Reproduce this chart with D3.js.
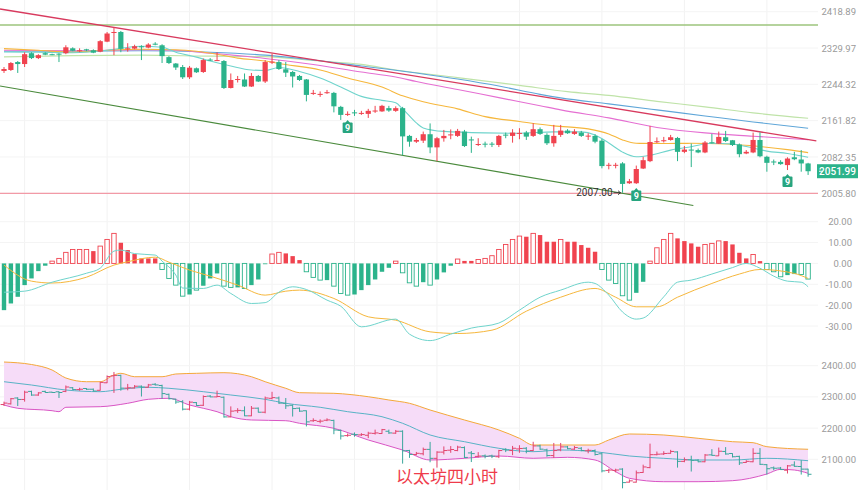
<!DOCTYPE html>
<html lang="zh">
<head>
<meta charset="UTF-8">
<title>以太坊四小时</title>
<script src="https://cdn.jsdelivr.net/npm/d3@7"></script>
<style>
  body { margin: 0; background: #fff; }
  svg { display: block; font-family: Roboto, Arial, sans-serif; }
</style>
</head>
<body>
<svg id="chart" width="860" height="490"></svg>
<script>
// ---- candle data (4h ETH) ----
const opens = [2275.5,2277.8,2296.5,2291.8,2317.6,2305.9,2317.6,2315.2,2316.4,2317.6,
  2329.3,2323.4,2326.9,2324.6,2321.1,2345.3,2367.5,2368.8,2328.1,2328.6,
  2334.2,2331.0,2340.4,2336.6,2308.2,2293.0,2284.8,2260.7,2281.8,2273.1,
  2302.4,2300.0,2298.9,2235.9,2255.6,2255.6,2239.3,2263.8,2250.9,2295.4,
  2296.5,2279.4,2273.1,2263.8,2255.6,2223.4,2221.6,2225.2,2224.6,2192.8,
  2175.9,2180.4,2178.1,2177.0,2183.1,2182.6,2189.9,2183.8,2189.9,2128.1,
  2115.5,2117.7,2131.8,2103.1,2123.0,2129.2,2128.1,2137.6,2120.4,2109.3,
  2111.1,2111.1,2108.2,2130.9,2128.1,2133.2,2135.4,2128.1,2142.9,2130.3,
  2112.0,2130.3,2139.8,2132.5,2135.4,2127.4,2128.1,2117.7,2064.4,2064.4,
  2068.6,2026.7,2026.7,2057.7,2073.4,2114.8,2117.0,2119.2,2123.6,2093.4,
  2098.3,2097.2,2092.1,2114.2,2111.1,2125.2,2118.6,2109.3,2089.9,2092.1,
  2119.2,2082.8,2072.7,2071.9,2065.0,2081.7,2076.9,2068.5];
const highs = [2284.8,2296.5,2298.9,2319.9,2319.9,2315.2,2319.9,2316.4,2317.6,2336.6,
  2331.7,2329.3,2328.1,2326.9,2349.0,2368.8,2379.9,2371.2,2341.6,2337.9,
  2336.6,2341.6,2344.1,2339.1,2310.6,2294.2,2289.5,2287.2,2283.6,2304.7,
  2305.9,2319.9,2301.2,2269.6,2263.8,2269.6,2270.8,2266.1,2301.2,2316.4,
  2301.2,2296.5,2275.5,2266.1,2256.7,2231.4,2228.0,2231.4,2226.9,2195.1,
  2182.6,2186.0,2183.8,2188.3,2195.1,2197.4,2195.1,2194.0,2192.8,2130.3,
  2123.6,2137.6,2155.7,2125.9,2141.3,2142.4,2143.5,2141.3,2126.5,2123.0,
  2115.5,2114.8,2130.3,2135.4,2142.9,2145.1,2139.1,2156.1,2146.8,2134.0,
  2152.4,2152.4,2142.9,2142.9,2139.1,2134.0,2131.8,2121.5,2069.8,2069.8,
  2071.3,2035.7,2064.0,2082.8,2150.2,2124.8,2125.9,2130.3,2125.9,2106.0,
  2111.5,2100.5,2117.0,2132.5,2137.6,2139.1,2119.2,2111.5,2097.2,2135.4,
  2135.8,2085.0,2076.9,2075.5,2081.7,2093.4,2097.2,2069.8];
const lows = [2270.8,2275.5,2270.8,2284.8,2303.6,2303.6,2312.9,2312.9,2296.5,2315.2,
  2322.3,2319.9,2322.3,2317.6,2319.9,2344.1,2312.9,2319.9,2321.1,2326.9,
  2301.2,2329.3,2336.6,2294.2,2291.8,2277.8,2256.7,2256.7,2270.8,2270.8,
  2298.9,2298.9,2233.6,2234.8,2248.6,2238.2,2238.2,2249.7,2247.4,2291.8,
  2277.8,2261.4,2237.0,2252.1,2205.3,2220.0,2215.5,2222.3,2180.4,2163.4,
  2172.4,2172.4,2174.7,2167.9,2179.2,2181.5,2181.5,2181.5,2086.1,2104.5,
  2112.6,2112.6,2090.5,2073.4,2115.5,2120.8,2125.9,2103.8,2091.2,2106.0,
  2103.1,2103.8,2103.8,2123.0,2113.3,2120.8,2119.2,2125.9,2130.3,2108.2,
  2104.5,2125.9,2132.5,2130.3,2125.9,2119.2,2112.0,2058.1,2056.0,2058.1,
  2007.0,2025.3,2025.3,2056.6,2071.3,2112.6,2113.7,2117.7,2073.4,2090.5,
  2060.8,2090.5,2090.5,2111.5,2110.4,2114.8,2106.0,2081.7,2088.4,2090.5,
  2081.7,2051.0,2065.0,2065.6,2054.5,2075.5,2051.0,2044.1];
const closes = [2280.1,2294.2,2291.8,2315.2,2305.9,2312.9,2314.1,2314.1,2314.1,2331.7,
  2323.4,2324.6,2324.6,2318.8,2346.5,2365.1,2368.8,2328.1,2329.3,2334.2,
  2331.7,2338.4,2338.4,2310.6,2294.2,2283.6,2260.7,2283.2,2272.4,2301.2,
  2300.0,2301.2,2235.9,2254.4,2256.7,2239.3,2263.8,2250.9,2296.5,2297.7,
  2280.1,2271.5,2262.6,2254.4,2220.0,2224.6,2222.3,2226.2,2194.0,2174.7,
  2177.0,2179.2,2179.2,2183.8,2184.5,2195.1,2184.5,2189.9,2127.0,2115.5,
  2119.2,2131.8,2103.1,2123.0,2128.1,2131.4,2139.1,2106.0,2118.2,2110.4,
  2109.8,2109.8,2128.1,2129.6,2135.4,2134.7,2126.5,2142.9,2132.5,2112.0,
  2128.1,2139.8,2134.0,2137.6,2128.1,2128.7,2115.5,2062.9,2065.6,2065.6,
  2025.3,2030.9,2056.7,2075.5,2114.8,2116.4,2118.6,2125.2,2093.4,2098.3,
  2096.5,2092.1,2113.7,2112.6,2125.9,2117.0,2108.2,2088.4,2093.4,2119.2,
  2083.9,2069.8,2071.3,2067.1,2079.0,2077.5,2068.5,2051.99];

// moving averages: [candle index, price]
const maCyan = [[0,2320.6],[5,2319.9],[10,2318.8],[15,2324.6],[17,2329.3],[20,2334.2],[23,2331.7],[25,2319.9],
  [28,2308.2],[30,2298.9],[33,2287.2],[36,2277.8],[38,2276.6],[40,2283.6],[43,2274.3],[46,2259.1],[49,2238.2],
  [52,2216.6],[55,2207.6],[57,2201.9],[58,2188.3],[60,2156.8],[61,2145.7],[64,2138.0],[70,2134.7],[75,2134.0],
  [80,2136.9],[84,2136.9],[86,2130.3],[88,2112.6],[90,2092.8],[92,2082.8],[94,2086.1],[97,2097.2],[100,2104.5],
  [103,2111.9],[106,2110.4],[108,2104.9],[111,2095.0],[114,2089.9],[117,2081.7]];
const maOrange = [[0,2328.6],[5,2324.6],[10,2319.9],[15,2324.6],[20,2326.9],[25,2325.8],[28,2322.3],[31,2315.2],
  [34,2305.9],[38,2298.9],[40,2293.0],[46,2277.8],[50,2259.0],[55,2238.0],[58,2218.0],[61,2204.2],[66,2188.3],
  [70,2170.9],[75,2160.1],[80,2150.2],[85,2143.5],[88,2132.5],[90,2119.2],[92,2111.9],[96,2111.5],[100,2111.9],
  [105,2110.4],[110,2104.9],[114,2098.3],[117,2091.7]];
const maPink = [[0,2324.6],[10,2323.4],[20,2325.8],[25,2324.6],[30,2317.6],[38,2305.0],[45,2290.7],[52,2273.1],
  [57,2261.4],[60,2250.9],[66,2232.5],[72,2213.7],[78,2195.5],[81,2186.0],[88,2168.0],[95,2146.8],[102,2134.7],
  [109,2127.4],[117,2119.7]];
const maBlue = [[0,2322.3],[10,2322.3],[20,2323.4],[30,2319.9],[38,2312.9],[45,2301.2],[52,2287.2],[60,2270.8],
  [66,2256.7],[72,2240.4],[78,2221.2],[81,2213.2],[88,2199.6],[95,2186.0],[102,2172.4],[109,2159.0],[117,2145.1]];
const maGreen = [[0,2308.9],[10,2311.7],[20,2312.9],[30,2310.6],[38,2309.4],[45,2300.0],[52,2291.0],[57,2277.8],
  [66,2260.0],[75,2242.0],[82,2227.5],[88,2218.9],[95,2205.3],[102,2192.8],[109,2179.2],[117,2167.2]];

// drawn lines: [candle index, price]
const trendRed = [[-0.58,2425.6],[118.2,2117.0]];
const trendGreen = [[-0.58,2240.4],[100.3,1980.7]];
const levelGreen = 2386.1;
const levelRed = 2005.8;
const lowMark = { idx: 90, label: '2007.00' };
const nineMarks = [50, 92, 114];
const mainTicks = [2418.89, 2329.97, 2244.32, 2161.82, 2082.35, 2005.80];

// MACD
const hist = [-22.4,-19.2,-16,-10.4,-7.2,-3.7,-1.1,1.1,2.4,5.3,
  6.7,6.7,6.7,5.9,8.3,11.5,14.4,9.9,6.4,4.5,
  2.4,2.4,2.4,-2.9,-7.2,-10.4,-15.7,-14.9,-12.8,-10.7,
  -7.2,-4.8,-10.9,-11.5,-11.5,-12,-10.4,-7.7,-0.3,4.5,
  5.3,4.8,3.5,1.6,-4,-6.7,-8,-8,-10.9,-14.4,
  -15.2,-14.9,-12.8,-10.4,-7.7,-4,-2.1,1.1,-4.5,-9.3,
  -10.9,-9,-10.4,-7.7,-4.3,-1.1,2.1,1.2,1.2,1.9,
  2.4,3.7,6.7,9.1,11.5,13.1,12.8,14.4,13.6,10.4,
  10.4,11.5,10.4,10.4,8.8,7.5,5.6,-2.9,-8,-9.6,
  -15.5,-17.6,-14.1,-8.8,1.1,7.5,11.5,14.4,12,10.7,
  9.6,8,9.1,9.6,10.8,10.7,9.1,5.1,2.4,4.3,
  1.1,-2.9,-4,-6.4,-5.6,-5.1,-5.3,-7.5];
const histSolid = [1,1,1,1,1,1,1,0,0,0, 0,0,0,1,0,0,0,1,1,1, 1,1,1,0,0,0,0,1,0,1,
  1,1,0,0,1,0,1,1,1,0, 0,1,1,1,0,0,0,1,0,0, 0,1,1,1,1,1,1,0,0,0,
  0,1,0,1,1,1,0,1,1,0, 0,0,0,0,0,0,1,0,1,1, 1,0,1,1,1,1,1,0,0,0,
  0,0,1,1,0,0,0,0,1,1, 1,1,0,0,0,1,1,1,1,0, 1,0,0,0,1,1,0,0];
const dif = [[0,-13.8],[3,-13.3],[7,-9.0],[12,-4.7],[14,-2.3],[16,5.9],[17,6.4],[19,4.7],[22,4.0],[23,1.1],
  [25,-5.6],[26,-11.8],[29,-12.0],[31,-10.4],[33,-14.4],[36,-19.2],[38,-18.8],[40,-13.8],[42,-11.2],[44,-12.5],
  [47,-17.6],[49,-20.5],[52,-30.4],[57,-26.7],[59,-33.9],[62,-37.0],[65,-33.9],[68,-31.0],[72,-28.6],[75,-22.4],
  [78,-16.2],[81,-12.8],[85,-9.0],[86,-9.6],[88,-15.2],[90,-23.3],[92,-26.7],[93,-26.2],[96,-16.0],[98,-9.0],
  [100,-8.0],[103,-5.1],[106,-2.0],[108,0],[110,-2.3],[112,-6.1],[114,-8.5],[116,-9.0],[117,-11.2]];
const dea = [[0,-0.8],[4,-8.5],[7,-9.4],[12,-6.6],[16,-0.8],[18,0.8],[22,3.0],[24,0.6],[27,-3.2],[30,-6.1],
  [34,-10.4],[38,-15.2],[41,-13.3],[43,-12.8],[48,-16.8],[53,-25.6],[57,-27.2],[62,-32.8],[66,-33.6],[71,-32.0],
  [76,-22.9],[81,-16.2],[86,-12.0],[89,-16.2],[92,-20.8],[95,-20.8],[98,-16.2],[103,-9.6],[107,-5.1],[110,-2.9],
  [115,-4.8],[117,-7.2]];
const macdTicks = [20, 10, 0, -10, -20, -30];

// Bollinger bands
const bollUp = [[0,2411.8],[4,2403.8],[7,2386.2],[9,2360.6],[12,2348.7],[14,2348.7],[16,2370.2],[17,2375.6],
  [19,2364.7],[23,2364.7],[25,2373.4],[28,2375.6],[32,2377.6],[36,2364.7],[38,2348.7],[41,2327.6],[43,2313.5],
  [48,2311.5],[53,2300.6],[56,2290.1],[59,2279.5],[62,2258.0],[67,2226.0],[72,2194.0],[75,2167.3],[77,2145.8],
  [86,2145.8],[88,2161.9],[91,2181.1],[96,2177.9],[101,2167.3],[106,2156.4],[109,2153.2],[111,2140.4],[117,2132.1]];
const bollMid = [[0,2348.7],[4,2338.1],[9,2322.1],[14,2316.7],[17,2324.4],[21,2330.8],[24,2327.6],[29,2316.7],
  [33,2306.1],[38,2292.3],[41,2279.5],[46,2266.7],[50,2252.6],[55,2236.5],[58,2215.4],[62,2177.9],[67,2156.4],
  [72,2135.3],[77,2124.4],[81,2129.8],[86,2124.4],[91,2110.6],[96,2103.2],[101,2097.8],[106,2097.8],[111,2103.2],[117,2095.5]];
const bollLow = [[0,2274.0],[2,2263.5],[7,2255.8],[8,2252.6],[9,2266.7],[14,2268.6],[18,2279.5],[21,2292.3],
  [24,2295.5],[27,2274.0],[29,2263.5],[31,2252.6],[33,2236.5],[36,2226.0],[41,2223.7],[43,2215.4],[48,2199.4],
  [53,2161.9],[58,2129.8],[62,2097.8],[67,2103.2],[72,2110.6],[77,2103.2],[82,2106.4],[86,2097.8],[89,2060.3],
  [91,2039.1],[96,2028.2],[101,2028.2],[106,2031.4],[111,2052.9],[113,2067.9],[115,2065.7],[117,2055.1]];
const bollTicks = [2400, 2300, 2200, 2100];

const RED = '#f0434f', GREEN = '#2bb38b';
const n = closes.length;
const idx = d3.range(n);
const isUp = i => closes[i] >= opens[i];

const svg = d3.select('#chart');
const x = d3.scaleLinear().domain([0, n - 1]).range([4, 808.1]);
const yMain = d3.scaleLog().domain([2005.8, 2418.89]).range([193.3, 11.7]);
const yMacd = d3.scaleLinear().domain([-30, 20]).range([326, 221.7]);
const yBoll = d3.scaleLinear().domain([2100, 2400]).range([459.3, 365.7]);

const defs = svg.append('defs');
defs.append('clipPath').attr('id', 'clipMain').append('rect').attr('width', 818).attr('height', 215);
defs.append('clipPath').attr('id', 'clipAll').append('rect').attr('width', 818).attr('height', 490);

// vertical grid every 12 candles
svg.append('g').selectAll('line').data(d3.range(3, n, 12)).join('line')
  .attr('x1', d => x(d)).attr('x2', d => x(d)).attr('y1', 0).attr('y2', 490)
  .attr('stroke', '#f2f2f2');

// horizontal grid
function hGrid(ticks, y) {
  svg.append('g').selectAll('line').data(ticks).join('line')
    .attr('x1', 0).attr('x2', 818).attr('y1', d => y(d)).attr('y2', d => y(d))
    .attr('stroke', '#f4f4f4');
}
hGrid(mainTicks, yMain); hGrid(macdTicks, yMacd); hGrid(bollTicks, yBoll);

// ---- main panel ----
const gMain = svg.append('g').attr('clip-path', 'url(#clipMain)');
const ptLine = (y, curve) => d3.line().x(d => x(d[0])).y(d => y(d[1])).curve(curve || d3.curveLinear);

gMain.append('line').attr('x1', 0).attr('x2', 818)
  .attr('y1', yMain(levelGreen)).attr('y2', yMain(levelGreen))
  .attr('stroke', '#9cc47c').attr('stroke-width', 1.4);
gMain.append('line').attr('x1', 0).attr('x2', 818)
  .attr('y1', yMain(levelRed)).attr('y2', yMain(levelRed))
  .attr('stroke', '#f29aa6').attr('stroke-width', 1.2);

const maLine = ptLine(yMain, d3.curveMonotoneX);
[[maGreen, '#bfe3a8'], [maBlue, '#5fa6d8'], [maPink, '#e56fd2'], [maOrange, '#f6b73c'], [maCyan, '#6fd4cc']]
  .forEach(([pts, col]) => {
    gMain.append('path').attr('d', maLine(pts)).attr('fill', 'none')
      .attr('stroke', col).attr('stroke-width', 1.1);
  });

gMain.append('path').attr('d', ptLine(yMain)(trendRed)).attr('fill', 'none')
  .attr('stroke', '#d83a5e').attr('stroke-width', 1.3);
gMain.append('path').attr('d', ptLine(yMain)(trendGreen)).attr('fill', 'none')
  .attr('stroke', '#4a8a3c').attr('stroke-width', 1.1);

// candles
gMain.append('g').selectAll('line').data(idx).join('line')
  .attr('x1', i => x(i)).attr('x2', i => x(i))
  .attr('y1', i => yMain(highs[i])).attr('y2', i => yMain(lows[i]))
  .attr('stroke', i => isUp(i) ? RED : GREEN);
gMain.append('g').selectAll('rect').data(idx).join('rect')
  .attr('x', i => x(i) - 2.6).attr('width', 5.2)
  .attr('y', i => yMain(Math.max(opens[i], closes[i])))
  .attr('height', i => Math.max(1, Math.abs(yMain(opens[i]) - yMain(closes[i]))))
  .attr('fill', i => isUp(i) ? RED : GREEN);

// "9" markers under candles
const nine = svg.append('g').selectAll('g').data(nineMarks).join('g')
  .attr('transform', i => `translate(${x(i)},${yMain(lows[i])})`);
nine.append('path').attr('d', 'M0,4L-2.5,7L2.5,7Z').attr('fill', '#27a57f');
nine.append('rect').attr('x', -5).attr('y', 6.5).attr('width', 10).attr('height', 10.5)
  .attr('rx', 1).attr('fill', '#27a57f');
nine.append('text').attr('y', 15.2).attr('text-anchor', 'middle').attr('fill', '#fff')
  .attr('font-size', 9).attr('font-weight', 'bold').text('9');

// low annotation
const lx = x(lowMark.idx), ly = yMain(lows[lowMark.idx]);
svg.append('text').attr('x', lx - 10).attr('y', ly + 3.5).attr('text-anchor', 'end')
  .attr('font-size', 10).attr('fill', '#333').text(lowMark.label);
svg.append('path').attr('d', `M${lx - 9},${ly}H${lx - 2}M${lx - 4.5},${ly - 2}L${lx - 2},${ly}L${lx - 4.5},${ly + 2}`)
  .attr('fill', 'none').attr('stroke', '#333').attr('stroke-width', 0.9);

// right axes
function rightAxis(y, ticks, xPos, fmt) {
  const g = svg.append('g').attr('transform', `translate(${xPos},0)`)
    .call(d3.axisRight(y).tickValues(ticks).tickSize(0).tickFormat(fmt));
  g.select('.domain').remove();
  g.selectAll('text').attr('x', 0).attr('dy', '0.32em').style('text-anchor', 'end')
    .attr('fill', '#9a9a9a').style('font-size', '9.5px').style('font-family', 'Roboto, Arial, sans-serif');
}
rightAxis(yMain, mainTicks, 856, d => d.toFixed(2));
rightAxis(yMacd, macdTicks, 852, d => d.toFixed(2));
rightAxis(yBoll, bollTicks, 856, d => d.toFixed(2));

// last price tag
const lastY = yMain(closes[n - 1]);
svg.append('rect').attr('x', 817).attr('y', lastY - 7).attr('width', 41).attr('height', 14).attr('fill', GREEN);
svg.append('line').attr('x1', 819).attr('x2', 823).attr('y1', lastY).attr('y2', lastY).attr('stroke', '#fff');
svg.append('text').attr('x', 856).attr('y', lastY + 3.5).attr('text-anchor', 'end')
  .attr('fill', '#fff').attr('font-size', 10).attr('font-weight', 500).text(closes[n - 1].toFixed(2));

// ---- MACD panel ----
const gMacd = svg.append('g').attr('clip-path', 'url(#clipAll)');
gMacd.append('g').selectAll('rect').data(idx).join('rect')
  .attr('x', i => x(i) - 2.2).attr('width', 4.4)
  .attr('y', i => Math.min(yMacd(hist[i]), yMacd(0)))
  .attr('height', i => Math.max(0.8, Math.abs(yMacd(hist[i]) - yMacd(0))))
  .attr('fill', i => histSolid[i] ? (hist[i] >= 0 ? RED : GREEN) : '#fff')
  .attr('stroke', i => hist[i] >= 0 ? RED : GREEN)
  .attr('stroke-width', i => histSolid[i] ? 0 : 0.9);
gMacd.append('path').attr('d', ptLine(yMacd, d3.curveMonotoneX)(dea)).attr('fill', 'none')
  .attr('stroke', '#f6b73c').attr('stroke-width', 1);
gMacd.append('path').attr('d', ptLine(yMacd, d3.curveMonotoneX)(dif)).attr('fill', 'none')
  .attr('stroke', '#6fd4cc').attr('stroke-width', 1);

// ---- Bollinger panel ----
const gBoll = svg.append('g').attr('clip-path', 'url(#clipAll)');
defs.append('clipPath').attr('id', 'aboveLow').append('path')
  .attr('d', d3.area().x(d => x(d[0])).y0(300).y1(d => yBoll(d[1])).curve(d3.curveMonotoneX)(bollLow));
gBoll.append('path').attr('clip-path', 'url(#aboveLow)')
  .attr('d', d3.area().x(d => x(d[0])).y0(490).y1(d => yBoll(d[1])).curve(d3.curveMonotoneX)(bollUp))
  .attr('fill', '#f6dcf8');
gBoll.append('path').attr('d', ptLine(yBoll, d3.curveMonotoneX)(bollUp)).attr('fill', 'none')
  .attr('stroke', '#f4a83a').attr('stroke-width', 1);
gBoll.append('path').attr('d', ptLine(yBoll, d3.curveMonotoneX)(bollMid)).attr('fill', 'none')
  .attr('stroke', '#58b3c6').attr('stroke-width', 1);
gBoll.append('path').attr('d', ptLine(yBoll, d3.curveMonotoneX)(bollLow)).attr('fill', 'none')
  .attr('stroke', '#d955c4').attr('stroke-width', 1);

gBoll.append('g').selectAll('path').data(idx).join('path')
  .attr('d', i => `M${x(i)},${yBoll(highs[i])}V${yBoll(lows[i])}` +
    `M${x(i) - 3.4},${yBoll(opens[i])}H${x(i)}M${x(i)},${yBoll(closes[i])}H${x(i) + 3.4}`)
  .attr('fill', 'none')
  .attr('stroke', i => isUp(i) ? '#e2456e' : '#3aa69c').attr('stroke-width', 1);

// title watermark
svg.append('text').attr('x', 396).attr('y', 483)
  .attr('font-family', '"Noto Sans CJK SC", sans-serif').attr('font-size', 17)
  .attr('fill', '#ef3b4b').text('以太坊四小时');
</script>
</body>
</html>
